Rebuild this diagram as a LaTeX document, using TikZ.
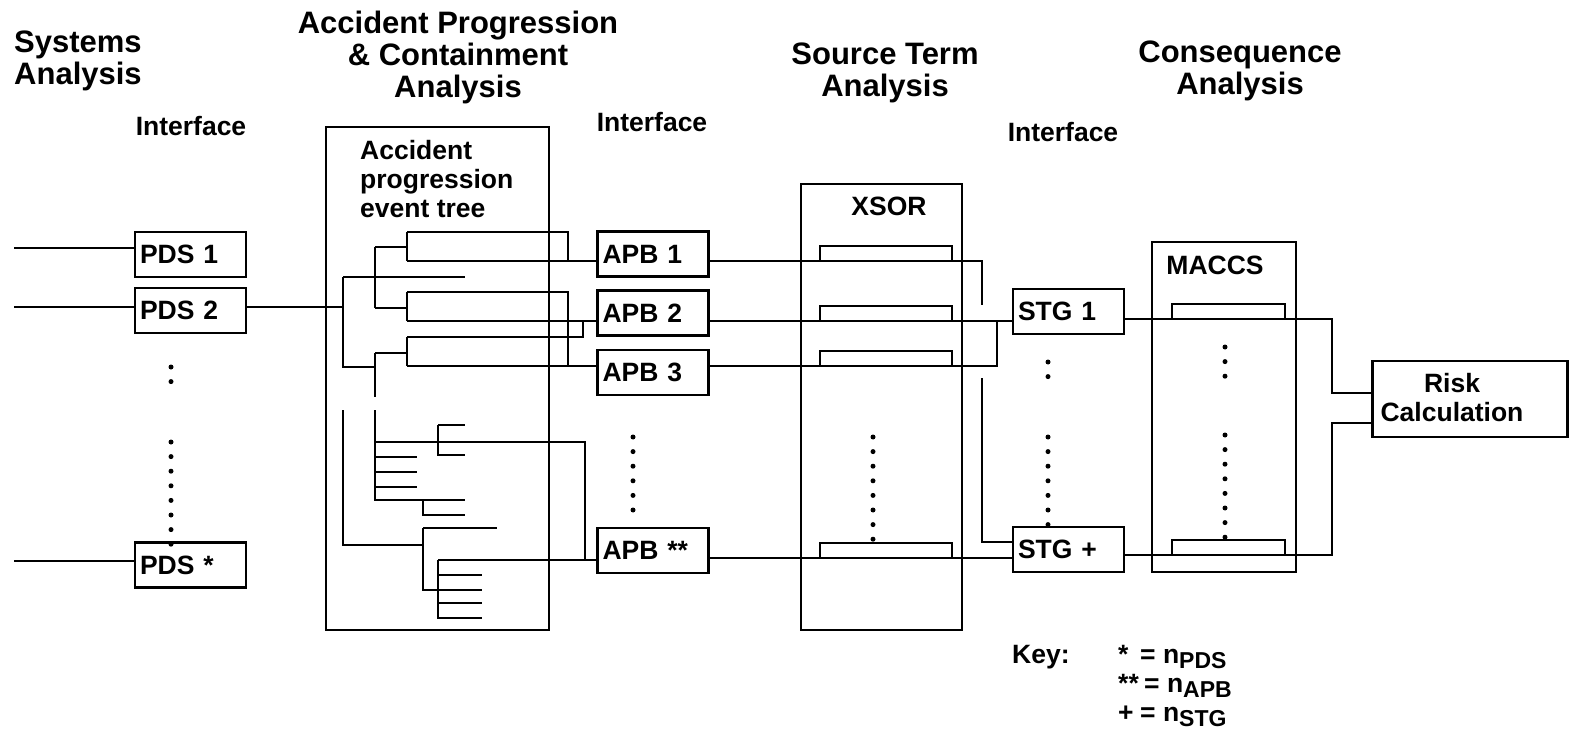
\documentclass[tikz,border=0pt]{standalone}
\usepackage{fontspec}
\setmainfont{Liberation Sans}
\usepackage{tikz}

\newcommand{\headfont}{\fontsize{31}{32}\selectfont\bfseries}
\newcommand{\lblfont}{\fontsize{26.5}{29}\selectfont\bfseries}
\newcommand{\nsub}[1]{n\raisebox{-5pt}{\fontsize{23}{23}\selectfont\bfseries #1}}

\tikzset{
  head/.style={font=\headfont, align=center, inner sep=0pt},
  lbl/.style={font=\lblfont, inner sep=0pt},
  blk/.style={draw, line width=2.5pt, font=\lblfont, minimum height=45pt,
              inner xsep=5pt, inner ysep=0pt, text width=101pt, align=left},
  frame/.style={draw, line width=2.5pt, inner sep=0pt},
  bar/.style={draw, line width=2.5pt},
  wire/.style={line width=2.5pt},
  dots/.style={line width=5pt, line cap=round, dash pattern=on 0pt off 14.6pt}
}

\begin{document}
\begin{tikzpicture}[x=1pt, y=-1pt]
  \useasboundingbox (0,0) rectangle (1575,738);

  \node[head, anchor=north west, align=left] (sa) at (14,31) {Systems\\Analysis};
  \node[head, anchor=north] (apca) at (458,11) {Accident Progression\\\& Containment\\Analysis};
  \node[head, anchor=north] (sta) at (885,43) {Source Term\\Analysis};
  \node[head, anchor=north] (ca) at (1240,41) {Consequence\\Analysis};

  \node[lbl, anchor=north] (if1) at (191,116) {Interface};
  \node[lbl, anchor=north] (if2) at (652,112) {Interface};
  \node[lbl, anchor=north] (if3) at (1063,122) {Interface};

  \node[frame, minimum width=223pt, minimum height=503pt] (etbox) at (437.5,378.5) {};
  \node[frame, minimum width=161pt, minimum height=446pt] (xsor) at (881.5,407) {};
  \node[frame, minimum width=144pt, minimum height=330pt] (maccs) at (1224,407) {};
  \node[lbl, anchor=north west, align=left] (etlbl) at (360,140) {Accident\\progression\\event tree};
  \node[lbl, anchor=north] (xsorlbl) at (889,197) {XSOR};
  \node[lbl, anchor=north] (maccslbl) at (1215,256) {MACCS};

  \node[blk] (pds1) at (190.5,254.5) {PDS 1};
  \node[blk] (pds2) at (190.5,310.5) {PDS 2};
  \node[blk] (pdsn) at (190.5,565) {PDS *};
  \node[blk] (apb1) at (653,254) {APB 1};
  \node[blk] (apb2) at (653,313) {APB 2};
  \node[blk] (apb3) at (653,372.5) {APB 3};
  \node[blk] (apbn) at (653,550.5) {APB **};
  \node[blk] (stg1) at (1068.5,311.5) {STG 1};
  \node[blk] (stgn) at (1068.5,549.5) {STG +};
  \node[frame, minimum width=195pt, minimum height=76pt] (risk) at (1470,399) {};
  \node[lbl, align=center] (risklbl) at (1452,398) {Risk\\Calculation};

  \coordinate (in1) at (14,248);
  \coordinate (in2) at (14,307);
  \coordinate (inn) at (14,561);
  \coordinate (root) at (343,307);
  \draw[wire] (in1) -- (in1 -| pds1.west);
  \draw[wire] (in2) -- (in2 -| pds2.west);
  \draw[wire] (inn) -- (inn -| pdsn.west);
  \draw[wire] (pds2.east |- in2) -- (root);

  \draw[wire] (343,277) -- (343,367) -- (375,367);
  \draw[wire] (343,277) -- (465,277);
  \draw[wire] (375,247) -- (375,308);
  \draw[wire] (375,247) -- (407,247);
  \draw[wire] (375,308) -- (407,308);
  \draw[wire] (407,232) -- (407,261);
  \draw[wire] (407,232) -- (568,232) -- (568,261);
  \draw[wire] (407,261) -- (apb1.west |- 0,261);
  \draw[wire] (407,292) -- (407,321);
  \draw[wire] (407,292) -- (568,292) -- (568,366);
  \draw[wire] (407,321) -- (apb2.west |- 0,321);
  \draw[wire] (375,353) -- (375,397);
  \draw[wire] (375,353) -- (407,353);
  \draw[wire] (407,337) -- (407,366);
  \draw[wire] (407,337) -- (583,337) -- (583,321);
  \draw[wire] (407,366) -- (apb3.west |- 0,366);

  \draw[wire] (343,410) -- (343,545) -- (423,545);
  \draw[wire] (423,528) -- (423,590) -- (482,590);
  \draw[wire] (423,528) -- (497,528);
  \draw[wire] (438,560) -- (438,618) -- (482,618);
  \draw[wire] (438,560) -- (apbn.west |- 0,560);
  \draw[wire] (438,575) -- (482,575);
  \draw[wire] (438,603) -- (482,603);
  \draw[wire] (375,410) -- (375,500) -- (465,500);
  \draw[wire] (375,442) -- (585,442) -- (585,560);
  \draw[wire] (438,425) -- (438,455) -- (465,455);
  \draw[wire] (438,425) -- (465,425);
  \draw[wire] (375,457) -- (417,457);
  \draw[wire] (375,472) -- (417,472);
  \draw[wire] (375,487) -- (417,487);
  \draw[wire] (423,500) -- (423,515) -- (465,515);

  \draw[bar] (820,246) rectangle (952,261);
  \draw[bar] (820,306) rectangle (952,321);
  \draw[bar] (820,351) rectangle (952,366);
  \draw[bar] (820,543) rectangle (952,558);
  \draw[bar] (1172,304) rectangle (1285,319);
  \draw[bar] (1172,540) rectangle (1285,555);

  \draw[wire] (apb1.east |- 0,261) -- (982,261) -- (982,305);
  \draw[wire] (apb2.east |- 0,321) -- (stg1.west |- 0,321);
  \draw[wire] (apb3.east |- 0,366) -- (997,366) -- (997,321);
  \draw[wire] (982,378) -- (982,542) -- (stgn.west |- 0,542);
  \draw[wire] (apbn.east |- 0,558) -- (stgn.west |- 0,558);
  \draw[wire] (stg1.east |- 0,319) -- (1332,319) -- (1332,393) -- (risk.west |- 0,393);
  \draw[wire] (stgn.east |- 0,555) -- (1332,555) -- (1332,423) -- (risk.west |- 0,423);

  \draw[dots] (171,367) -- (171,383);
  \draw[dots] (171,442) -- (171,545);
  \draw[dots] (633,437) -- (633,514);
  \draw[dots] (873,437) -- (873,541);
  \draw[dots] (1048,362) -- (1048,378);
  \draw[dots] (1048,437) -- (1048,526);
  \draw[dots] (1225,347) -- (1225,378);
  \draw[dots] (1225,435) -- (1225,539);

  \node[lbl, anchor=north west] (key) at (1012,643) {%
    \begin{tabular}{@{}p{106pt}@{}p{22pt}@{}l@{}}
      Key: & * & = \nsub{PDS}\\
           & ** & \hspace{4pt}= \nsub{APB}\\
           & + & = \nsub{STG}
    \end{tabular}};
\end{tikzpicture}
\end{document}
